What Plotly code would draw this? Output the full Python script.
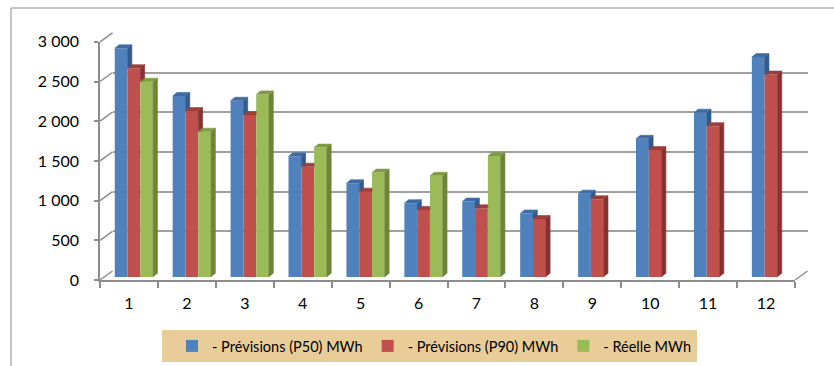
import plotly.graph_objects as go

# ---- data -------------------------------------------------------------
months = list(range(1, 13))
month_labels = [str(m) for m in months]

p50 = [2880, 2280, 2220, 1520, 1180, 930, 950, 800, 1050, 1740, 2070, 2770]
p90 = [2630, 2090, 2040, 1390, 1075, 845, 865, 730, 980, 1600, 1900, 2550]
reelle = [2460, 1830, 2300, 1630, 1315, 1275, 1525, None, None, None, None, None]

series_names = ["- Prévisions (P50) MWh", "- Prévisions (P90) MWh", "- Réelle MWh"]
y_ticks = [0, 500, 1000, 1500, 2000, 2500, 3000]
y_max = 3000

# ---- styling / geometry ----------------------------------------------
W, H = 834, 366
FONT = "Lato"
K = 0.0794                       # px per MWh on the value axis
FRONT_X0, FRONT_X1, FRONT_Y0 = 100, 795, 280
BACK_DX, BACK_DY = 12.5, -9      # back wall offset from the front plane
BAR_DX, BAR_DY = 5, -3           # bar row offset from the front plane
CAT_PX = (FRONT_X1 - FRONT_X0) / 12.0

front_cols = ["#4F81BD", "#C0504D", "#9BBB59"]
top_cols = ["#3E6BA5", "#9E3E3B", "#7F9C45"]
side_cols = ["#345A8C", "#86322F", "#6C853A"]
wall_col = "#8C8C8C"
grid_col = "#A0A0A0"

BW = 12.8 / CAT_PX               # bar width in category units
offsets = [-1.5 * BW, -0.5 * BW, 0.5 * BW]
DDX = 4.3 / CAT_PX               # depth of the bar in category units
DDY = 3.5 / K                    # depth of the bar in MWh units


def fx(px):
    return px / W


def fy(px):
    return 1 - px / H


def plane_domains(dx, dy):
    x0 = FRONT_X0 + dx
    x1 = FRONT_X1 + dx
    yb = FRONT_Y0 + dy
    yt = yb - y_max * K
    return [fx(x0), fx(x1)], [fy(yb), fy(yt)]


fig = go.Figure()

series = [p50, p90, reelle]

# front faces of the columns
for i, vals in enumerate(series):
    fig.add_trace(go.Bar(
        x=months, y=vals, width=BW, offset=offsets[i],
        name=series_names[i], marker=dict(color=front_cols[i], line=dict(width=0)),
        xaxis="x3", yaxis="y3", hoverinfo="skip",
    ))

# top and side faces, computed from the same values
for i, vals in enumerate(series):
    tx, ty, sx, sy = [], [], [], []
    nxt = series[i + 1] if i + 1 < len(series) else [None] * len(months)
    for m, v, r in zip(months, vals, nxt):
        if v is None:
            continue
        x0 = m + offsets[i]
        x1 = x0 + BW
        if r is not None and r >= v:
            tx += [x0, x0 + DDX, x1, x1, None]
            ty += [v, v + DDY, v + DDY, v, None]
            continue
        tx += [x0, x0 + DDX, x1 + DDX, x1, None]
        ty += [v, v + DDY, v + DDY, v, None]
        if r is None:
            sx += [x1, x1, x1 + DDX, x1 + DDX, None]
            sy += [0, v, v + DDY, DDY, None]
        else:
            sx += [x1, x1, x1 + DDX, x1 + DDX, None]
            sy += [r, v, v + DDY, r, None]
    fig.add_trace(go.Scatter(
        x=sx, y=sy, mode="lines", fill="toself", fillcolor=side_cols[i],
        line=dict(width=0.6, color=side_cols[i]), showlegend=False,
        hoverinfo="skip", xaxis="x3", yaxis="y3"))
    fig.add_trace(go.Scatter(
        x=tx, y=ty, mode="lines", fill="toself", fillcolor=top_cols[i],
        line=dict(width=0.6, color=top_cols[i]), showlegend=False,
        hoverinfo="skip", xaxis="x3", yaxis="y3"))

# empty traces so the front axes and the back wall grid are rendered
for xa, ya in (("x", "y"), ("x2", "y2")):
    fig.add_trace(go.Scatter(x=months, y=[None] * 12, mode="markers",
                             showlegend=False, hoverinfo="skip", xaxis=xa, yaxis=ya))

fdx, fdy = plane_domains(0, 0)
bdx, bdy = plane_domains(BACK_DX, BACK_DY)
rdx, rdy = plane_domains(BAR_DX, BAR_DY)

fig.update_layout(
    width=W, height=H,
    margin=dict(l=0, r=0, t=0, b=0, pad=0, autoexpand=False),
    paper_bgcolor="white", plot_bgcolor="rgba(0,0,0,0)",
    font=dict(family=FONT, color="#000000", size=16),
    separators=", ",
    barmode="overlay",
    showlegend=True,
    legend=dict(orientation="h", x=fx(172), xanchor="left", y=fy(346), yanchor="middle",
                bgcolor="rgba(0,0,0,0)", font=dict(size=14.5, family=FONT),
                traceorder="normal"),
    xaxis=dict(domain=fdx, range=[0.5, 12.5], anchor="y",
               tickvals=months, ticktext=month_labels, ticks="",
               showline=True, linecolor=wall_col, linewidth=1.5,
               showgrid=False, zeroline=False, ticklabelstandoff=8,
               automargin=False,
               minor=dict(tickvals=[m - 0.5 for m in months] + [12.5], ticks="outside",
                          ticklen=6, tickcolor=wall_col, tickwidth=1.5, showgrid=False)),
    yaxis=dict(domain=fdy, range=[0, y_max], anchor="x", automargin=False,
               tickvals=y_ticks, separatethousands=True, ticks="outside", ticklen=4,
               tickcolor=wall_col, tickwidth=1.5, showline=True, linecolor=wall_col,
               linewidth=1.5, showgrid=False, zeroline=False, ticklabelstandoff=12),
    xaxis2=dict(domain=bdx, range=[0.5, 12.5], anchor="y2", visible=False),
    yaxis2=dict(domain=bdy, range=[-1, y_max + 1], anchor="x2", tickvals=y_ticks,
                showticklabels=False, ticks="", showline=False, zeroline=False,
                showgrid=True, gridcolor=grid_col, gridwidth=2),
    xaxis3=dict(domain=rdx, range=[0.5, 12.5], anchor="y3", visible=False),
    yaxis3=dict(domain=rdy, range=[0, y_max], anchor="x3", visible=False),
)

shapes = []
# left wall: join each value on the front edge to the back wall
for v in y_ticks:
    yf = FRONT_Y0 - v * K
    shapes.append(dict(type="line", xref="paper", yref="paper",
                       x0=fx(FRONT_X0), y0=fy(yf),
                       x1=fx(FRONT_X0 + BACK_DX), y1=fy(yf + BACK_DY),
                       line=dict(color=wall_col, width=1.5)))
# right edge of the floor
shapes.append(dict(type="line", xref="paper", yref="paper",
                   x0=fx(FRONT_X1), y0=fy(FRONT_Y0),
                   x1=fx(FRONT_X1 + BACK_DX), y1=fy(FRONT_Y0 + BACK_DY),
                   line=dict(color=wall_col, width=1.5)))
# chart frame
shapes.append(dict(type="line", xref="paper", yref="paper",
                   x0=fx(11), y0=fy(8), x1=1, y1=fy(8),
                   line=dict(color="#8A8A8A", width=1)))
shapes.append(dict(type="line", xref="paper", yref="paper",
                   x0=fx(11), y0=fy(8), x1=fx(11), y1=0,
                   line=dict(color="#8A8A8A", width=1)))
# legend panel
shapes.append(dict(type="rect", xref="paper", yref="paper", layer="below",
                   x0=fx(162), x1=fx(697), y0=fy(362), y1=fy(330),
                   fillcolor="#E8CD98", line=dict(width=0)))
fig.update_layout(shapes=shapes)

fig.write_html("out.html")
